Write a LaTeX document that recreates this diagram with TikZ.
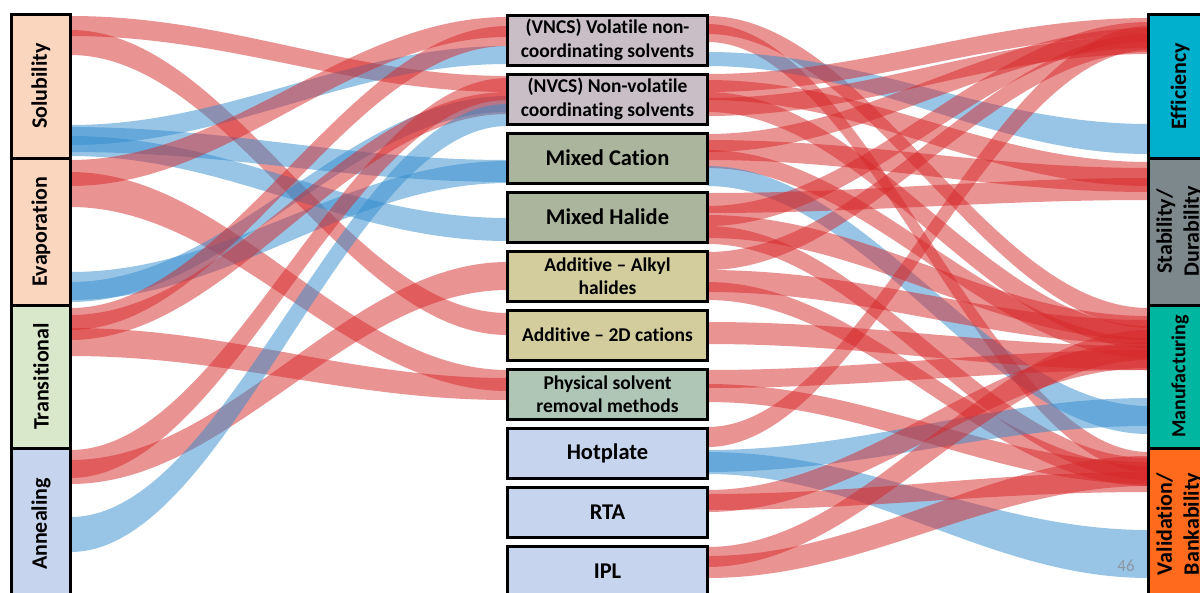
\documentclass[tikz,border=0pt]{standalone}
\usepackage{fontspec}
\setmainfont{Carlito}[Ligatures=NoCommon]
\usetikzlibrary{backgrounds}
\definecolor{flowred}{HTML}{D62728}
\definecolor{flowblue}{HTML}{328CCD}
\definecolor{solvbox}{HTML}{C9BEC6}
\definecolor{mixbox}{HTML}{ABB59D}
\definecolor{addbox}{HTML}{D3CD9D}
\definecolor{physbox}{HTML}{AFC6B6}
\definecolor{heatbox}{HTML}{C7D4EE}
\definecolor{dissbox}{HTML}{FBD6BF}
\definecolor{transbox}{HTML}{D9E7CB}
\definecolor{effbox}{HTML}{00B0CC}
\definecolor{stabbox}{HTML}{7D888C}
\definecolor{manbox}{HTML}{00B6A0}
\definecolor{valbox}{HTML}{FF6A1C}
\definecolor{pagegray}{HTML}{8A96A3}
\begin{document}
\begin{tikzpicture}[x=1pt,y=-1pt,
 side/.style={draw,line width=3pt,inner sep=0pt,outer sep=0pt,font=\fontsize{22}{27}\selectfont\bfseries},
 lbox/.style={side,minimum width=59pt},
 rbox/.style={side,minimum width=63pt},
 mid/.style={draw,line width=3pt,inner sep=0pt,outer sep=0pt,minimum width=200pt,minimum height=50pt,align=center,font=\fontsize{19.5}{23.5}\selectfont\bfseries},
 big/.style={mid,font=\fontsize{22.5}{27}\selectfont\bfseries}]
\useasboundingbox (0,0) rectangle (1200,592);
\clip (0,0) rectangle (1200,592);
\node[lbox,fill=dissbox,minimum height=144pt] (sol) at (41,86) {\rotatebox{90}{Solubility}};
\node[lbox,fill=dissbox,minimum height=147pt] (evap) at (41,231.5) {\rotatebox{90}{Evaporation}};
\node[lbox,fill=transbox,minimum height=143pt] (trans) at (41,376.5) {\rotatebox{90}{Transitional}};
\node[lbox,fill=heatbox,minimum height=152pt] (ann) at (41,524) {\rotatebox{90}{Annealing}};
\node[mid,fill=solvbox] (vncs) at (607.5,40) {(VNCS) Volatile non-\\coordinating solvents};
\node[mid,fill=solvbox] (nvcs) at (607.5,99) {(NVCS) Non-volatile\\coordinating solvents};
\node[big,fill=mixbox] (mcat) at (607.5,158) {Mixed Cation};
\node[big,fill=mixbox] (mhal) at (607.5,217) {Mixed Halide};
\node[mid,fill=addbox] (adda) at (607.5,276) {Additive -- Alkyl\\halides};
\node[mid,fill=addbox] (addb) at (607.5,335) {Additive -- 2D cations};
\node[mid,fill=physbox] (phys) at (607.5,394) {Physical solvent\\removal methods};
\node[big,fill=heatbox] (hot) at (607.5,453) {Hotplate};
\node[big,fill=heatbox] (rta) at (607.5,512) {RTA};
\node[big,fill=heatbox] (ipl) at (607.5,571) {IPL};
\node[rbox,fill=effbox,minimum height=144pt] (eff) at (1180,86) {\rotatebox{90}{Efficiency}};
\node[rbox,fill=stabbox,minimum height=147pt] (stab) at (1180,231.5) {\rotatebox{90}{\begin{tabular}{@{}c@{}}Stability/\\Durability\end{tabular}}};
\node[rbox,fill=manbox,minimum height=143pt,font=\fontsize{20}{24}\selectfont\bfseries] (man) at (1180,376.5) {\rotatebox{90}{Manufacturing}};
\node[rbox,fill=valbox,minimum height=152pt] (val) at (1180,524) {\rotatebox{90}{\begin{tabular}{@{}c@{}}Validation/\\Bankability\end{tabular}}};
\node[text=pagegray,font=\fontsize{17}{20}\selectfont] (pg) at (1126,566) {46};
\begin{scope}[on background layer]
\foreach \cl/\src/\ya/\yb/\dst/\za/\zb in {
 flowred/sol/16/36/nvcs/76/92, flowred/sol/30/55/addb/313/335,
 flowblue/sol/125/145/vncs/46/64, flowblue/sol/127/152/mcat/160/182,
 flowblue/sol/136/156/mhal/218/241, flowred/evap/160/186/vncs/17/37,
 flowred/evap/172/207/phys/370/391, flowblue/evap/272/300/mcat/161/183,
 flowblue/evap/282/302/nvcs/96/112, flowred/trans/308/330/vncs/26/46,
 flowred/trans/315/340/nvcs/92/114, flowred/trans/328/356/phys/378/400,
 flowred/ann/450/478/nvcs/78/100, flowred/ann/460/484/adda/262/290,
 flowblue/ann/517/552/nvcs/104/126,
 flowred/vncs/16/34/man/308/328, flowred/vncs/24/42/val/452/472,
 flowblue/vncs/52/66/eff/124/154, flowred/nvcs/74/92/eff/18/36,
 flowred/nvcs/80/100/stab/162/186, flowred/nvcs/92/112/man/326/348,
 flowred/nvcs/98/116/eff/36/54, flowred/mcat/134/152/eff/28/48,
 flowred/mcat/140/160/stab/168/192, flowred/mcat/150/168/man/338/358,
 flowblue/mcat/166/186/man/406/434, flowred/mhal/193/213/stab/178/200,
 flowred/mhal/206/226/eff/22/42, flowred/mhal/215/238/man/316/340,
 flowred/mhal/226/244/val/458/480, flowred/adda/252/270/eff/34/52,
 flowred/adda/270/292/man/320/344, flowred/adda/282/300/val/466/486,
 flowred/addb/322/344/man/346/370, flowred/phys/370/388/man/350/370,
 flowred/phys/384/402/val/462/484, flowred/hot/427/447/eff/26/50,
 flowblue/hot/450/472/man/398/426, flowblue/hot/452/474/val/530/578,
 flowred/rta/490/512/man/342/368, flowred/rta/494/510/val/472/492,
 flowred/ipl/547/567/man/330/360, flowred/ipl/556/578/val/456/486}
 \fill[fill=\cl,fill opacity=.5] (\src.east |- 0,\ya) .. controls +(160,0) and +(-160,0) .. (\dst.west |- 0,\za)
   -- (\dst.west |- 0,\zb) .. controls +(-160,0) and +(160,0) .. (\src.east |- 0,\yb) -- cycle;
\end{scope}
\end{tikzpicture}
\end{document}
